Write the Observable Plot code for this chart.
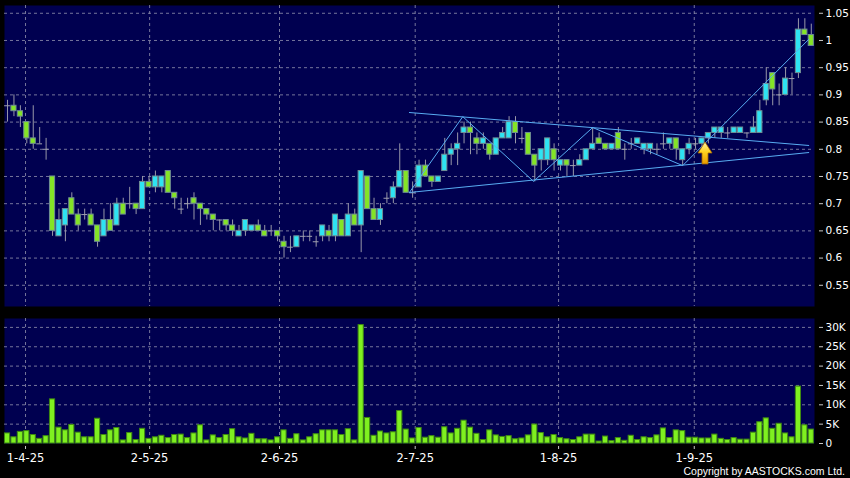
<!DOCTYPE html>
<html><head><meta charset="utf-8">
<script src="https://cdn.jsdelivr.net/npm/d3@7"></script>
<script src="https://cdn.jsdelivr.net/npm/@observablehq/plot@0.6"></script>
<style>
html,body{margin:0;padding:0;background:#000;}
#chart{position:relative;width:850px;height:478px;background:#000;overflow:hidden;font-family:"DejaVu Sans",sans-serif;}
#price,#volume{position:absolute;left:0;}
#price{top:0;}
#volume{top:312px;}
#copy{position:absolute;right:5px;top:465px;height:13px;line-height:13px;font-family:"Liberation Sans",Arial,sans-serif;font-size:10.5px;color:#fff;white-space:nowrap;}
</style></head><body>
<div id="chart"><div id="price"></div><div id="volume"></div>
<div id="copy">Copyright by AASTOCKS.com Ltd.</div>
</div>
<script>
// ---- data (one entry per trading day) ----
const opens  = [.88,.88,.87,.85,.82,.81,.80,.75,.64,.66,.71,.68,.68,.68,.66,.64,.67,.66,.70,.70,.70,.69,.74,.73,.73,.76,.72,.69,.70,.71,.70,.69,.68,.67,.67,.66,.64,.65,.65,.66,.65,.65,.65,.63,.62,.62,.64,.64,.63,.64,.65,.64,.67,.64,.68,.66,.75,.69,.67,.71,.71,.73,.76,.72,.73,.77,.75,.74,.76,.79,.80,.83,.84,.82,.81,.81,.79,.82,.82,.85,.82,.83,.79,.78,.78,.80,.77,.78,.77,.77,.78,.80,.82,.81,.80,.83,.80,.81,.81,.80,.80,.80,.81,.81,.82,.78,.80,.81,.81,.82,.83,.83,.83,.83,.83,.83,.83,.83,.89,.94,.90,.90,.93,.94,1.02,1.01];
const highs  = [.89,.90,.88,.85,.88,.84,.82,.75,.69,.69,.72,.69,.69,.69,.66,.69,.70,.71,.71,.73,.70,.75,.75,.76,.75,.76,.72,.71,.71,.72,.70,.69,.68,.67,.67,.67,.66,.67,.66,.67,.66,.66,.65,.64,.64,.64,.65,.65,.64,.66,.66,.68,.67,.70,.69,.76,.75,.71,.70,.72,.74,.81,.76,.74,.78,.78,.75,.75,.82,.81,.83,.85,.85,.83,.83,.81,.82,.84,.86,.86,.84,.83,.79,.80,.82,.81,.78,.78,.78,.79,.80,.84,.83,.81,.81,.84,.81,.82,.82,.81,.81,.81,.83,.82,.82,.80,.82,.82,.82,.83,.84,.84,.84,.84,.84,.83,.86,.89,.95,.94,.92,.95,.94,1.04,1.04,1.03];
const lows   = [.85,.86,.84,.81,.80,.81,.78,.64,.64,.63,.68,.65,.67,.66,.62,.64,.65,.66,.68,.69,.68,.69,.73,.72,.72,.72,.69,.68,.69,.67,.66,.67,.65,.65,.65,.64,.64,.64,.65,.65,.64,.64,.63,.60,.61,.62,.63,.63,.62,.63,.63,.63,.64,.64,.66,.61,.69,.67,.66,.70,.70,.73,.72,.71,.73,.75,.73,.74,.76,.77,.77,.81,.79,.79,.80,.78,.79,.82,.82,.81,.81,.79,.74,.76,.77,.76,.76,.75,.75,.77,.78,.80,.81,.80,.80,.80,.78,.80,.81,.79,.79,.79,.80,.80,.78,.77,.79,.80,.80,.81,.82,.82,.82,.83,.83,.82,.83,.83,.88,.88,.88,.90,.90,.93,1.01,.99];
const closes = [.88,.87,.86,.82,.81,.81,.80,.65,.67,.69,.68,.66,.68,.66,.63,.67,.65,.70,.68,.70,.69,.74,.73,.75,.75,.72,.71,.69,.70,.70,.69,.68,.67,.67,.66,.65,.65,.67,.66,.65,.64,.65,.64,.62,.62,.64,.64,.64,.63,.66,.64,.68,.64,.68,.66,.76,.69,.67,.69,.71,.73,.76,.72,.72,.77,.75,.74,.75,.79,.80,.81,.84,.83,.81,.82,.79,.82,.83,.85,.83,.82,.79,.77,.80,.82,.78,.78,.77,.77,.78,.80,.81,.81,.80,.81,.80,.80,.81,.82,.81,.81,.80,.81,.82,.80,.80,.81,.81,.82,.83,.84,.84,.83,.84,.84,.83,.84,.87,.92,.91,.90,.93,.93,1.02,1.01,.99];
const volumesK = [2.6,1.6,3.0,3.2,2.2,1.2,1.9,11.4,4.1,3.4,4.8,2.8,1.6,1.6,6.4,2.2,3.4,4.0,0.8,2.7,0.9,3.8,1.2,1.6,2.0,1.4,2.2,2.3,1.4,2.6,4.7,0.8,2.1,1.4,2.2,3.7,1.6,1.3,2.5,1.1,1.1,0.8,1.6,3.4,1.2,2.4,0.8,1.6,2.4,3.4,3.4,3.4,2.2,3.7,0.8,30.6,6.6,2.0,3.1,2.6,2.9,8.4,3.6,1.3,4.0,1.5,1.9,1.5,4.2,2.6,3.8,5.9,4.1,2.5,0.9,3.4,2.1,1.7,1.9,1.1,1.3,2.1,4.9,2.7,1.6,2.2,1.4,1.1,0.9,1.6,2.3,2.3,0.5,1.8,0.6,1.4,0.7,2.0,0.9,1.6,1.4,2.1,3.9,1.4,3.4,3.2,1.5,1.5,1.3,1.3,2.3,1.2,0.9,1.4,1.0,1.0,2.8,5.5,6.5,3.8,5.1,2.6,1.6,14.7,4.7,3.6];

const dateTickIndex  = [2.8, 22.1, 42.3, 63.4, 85.7, 106.8];
const dateTickLabels = ["1-4-25", "2-5-25", "2-6-25", "2-7-25", "1-8-25", "1-9-25"];
const priceTicks  = [0.55, 0.6, 0.65, 0.7, 0.75, 0.8, 0.85, 0.9, 0.95, 1.0, 1.05];
const volumeTicks = [0, 5, 10, 15, 20, 25, 30];

// drawn pattern lines (day index, price)
const upperTrend = [{i: 62.5, p: 0.8676}, {i: 124.6, p: 0.807}];
const lowerTrend = [{i: 62.5, p: 0.7206}, {i: 124.6, p: 0.794}];
const zigzag = [{i: 62.5, p: 0.7206}, {i: 70.8, p: 0.860}, {i: 81.8, p: 0.741}, {i: 91.0, p: 0.840}, {i: 105.0, p: 0.770}, {i: 124.6, p: 1.002}];
const arrowAt = {i: 108.55, p: 0.8125};

// ---- style ----
const NAVY = "#000050", CYAN = "#2ee3f2", GREEN = "#84e426", VOLG = "#7ff020";
const GRID = {stroke: "#8a8aa8", strokeOpacity: 0.85, strokeDasharray: "3,3"};
const xDomain = [-0.47, 125.5];

const candles = opens.map((o, i) => ({i, o, h: highs[i], l: lows[i], c: closes[i]}));
const ups = candles.filter(d => d.c > d.o);
const downs = candles.filter(d => d.c < d.o);
const dojis = candles.filter(d => d.c === d.o);
const vols = volumesK.map((v, i) => ({i, v}));
const labelOf = new Map(dateTickIndex.map((t, k) => [t, dateTickLabels[k]]));

function arrowMark(index, scales) {
  const x = scales.x(arrowAt.i), y = scales.y(arrowAt.p);
  const g = d3.create("svg:g");
  const grad = g.append("defs").append("linearGradient").attr("id", "arrowGrad").attr("x1", 0).attr("y1", 0).attr("x2", 0).attr("y2", 1);
  grad.append("stop").attr("offset", "0%").attr("stop-color", "#fff6a8");
  grad.append("stop").attr("offset", "45%").attr("stop-color", "#ffd21e");
  grad.append("stop").attr("offset", "100%").attr("stop-color", "#e89a00");
  const pts = [[0,0],[7,11],[3,11],[3,22],[-3,22],[-3,11],[-7,11]].map(([dx, dy]) => [x + dx, y + dy]);
  g.append("polygon").attr("points", pts.map(p => p.join(",")).join(" "))
    .attr("fill", "url(#arrowGrad)").attr("stroke", "#a86a00").attr("stroke-width", 0.8);
  return g.node();
}

const price = Plot.plot({
  width: 850, height: 312,
  marginLeft: 4, marginRight: 36, marginTop: 5, marginBottom: 6,
  style: {background: "#000", color: "#fff", fontFamily: "DejaVu Sans", fontSize: "10.5px"},
  x: {domain: xDomain, axis: null},
  y: {domain: [0.511, 1.0643]},
  marks: [
    Plot.frame({fill: NAVY, stroke: null}),
    Plot.gridY({ticks: priceTicks, ...GRID}),
    Plot.gridX({ticks: dateTickIndex, ...GRID}),
    Plot.ruleX(candles, {x: "i", y1: "l", y2: "h", stroke: "#9898a8", strokeWidth: 1}),
    Plot.rect(ups, {x1: d => d.i - 0.4, x2: d => d.i + 0.4, y1: "o", y2: "c", fill: CYAN, stroke: "#6f8d94", strokeWidth: 1}),
    Plot.rect(downs, {x1: d => d.i - 0.4, x2: d => d.i + 0.4, y1: "o", y2: "c", fill: GREEN, stroke: "#6f8d94", strokeWidth: 1}),
    Plot.ruleY(dojis, {y: "c", x1: d => d.i - 0.45, x2: d => d.i + 0.45, stroke: "#a0a0b0", strokeWidth: 1}),
    Plot.line(upperTrend, {x: "i", y: "p", stroke: "#58acf2", strokeWidth: 1}),
    Plot.line(lowerTrend, {x: "i", y: "p", stroke: "#58acf2", strokeWidth: 1}),
    Plot.line(zigzag, {x: "i", y: "p", stroke: "#58acf2", strokeWidth: 1}),
    arrowMark,
    Plot.axisY({anchor: "right", label: null, ticks: priceTicks, tickFormat: d => String(+d.toFixed(2)), tickSize: 4, tickPadding: 3, dx: 4, stroke: "#c8c8c8", fill: "#fff"})
  ]
});
document.getElementById("price").append(price);

const volume = Plot.plot({
  width: 850, height: 166,
  marginLeft: 4, marginRight: 36, marginTop: 6, marginBottom: 35,
  style: {background: "#000", color: "#fff", fontFamily: "DejaVu Sans", fontSize: "10.5px"},
  x: {domain: xDomain, axis: null},
  y: {domain: [0, 32.3], axis: null},
  marks: [
    Plot.frame({fill: NAVY, stroke: null}),
    Plot.gridY({ticks: volumeTicks.filter(t => t > 0), ...GRID}),
    Plot.gridX({ticks: dateTickIndex, ...GRID}),
    Plot.rect(vols, {x1: d => d.i - 0.4, x2: d => d.i + 0.4, y1: 0, y2: "v", fill: VOLG, stroke: "#3f8a12", strokeWidth: 1}),
    Plot.axisY({anchor: "right", label: null, ticks: volumeTicks, tickFormat: d => d === 0 ? "0" : d + "K", tickSize: 4, tickPadding: 3, dx: 4, stroke: "#c8c8c8", fill: "#fff"}),
    Plot.axisX({anchor: "bottom", label: null, ticks: dateTickIndex, tickFormat: d => labelOf.get(d), tickSize: 3, tickPadding: 4.5, dy: 3, fontSize: 11.5, stroke: "#c8c8c8", fill: "#fff"})
  ]
});
document.getElementById("volume").append(volume);
</script>
</body></html>
